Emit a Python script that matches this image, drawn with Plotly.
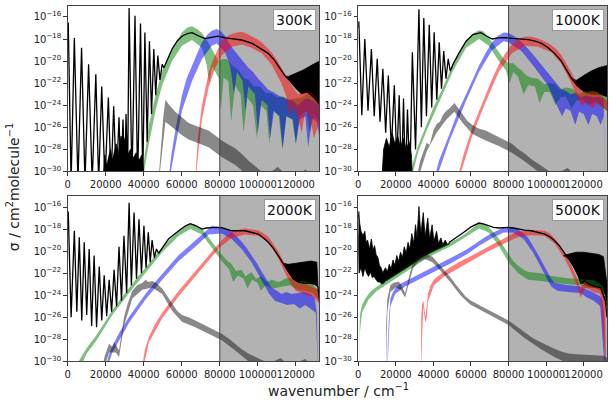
import numpy as np
import plotly.graph_objects as go

# ---------------- axes / labels ----------------
PANEL_LABELS = ["300K", "1000K", "2000K", "5000K"]
X_TICKS = [0, 20000, 40000, 60000, 80000, 100000, 120000]
Y_TICK_EXP = [-30, -28, -26, -24, -22, -20, -18, -16]
SHADE_START = 80000
X_MAX = 132400

# ---------------- data (pairs of wavenumber, log10 sigma) ----------------
# ===== 300 K =====
K300_black = [(0,-17.5),(300,-16.5),(1800,-31),(3500,-17.9),(5400,-31),(7300,-18.8),(9100,-31),(11000,-20.3),
              (12900,-31),(14800,-21.2),(16300,-31),(17900,-22.3),(19600,-31),(21400,-23.3),(22800,-31),
              (24200,-24.1),(25600,-31),(27000,-25.1),(28000,-31),(29100,-25.3),(30000,-31),(30700,-24.8),
              (31500,-31),(32300,-15.2),(33800,-31),(35400,-15.9),(36800,-31),(38300,-16.6),(39500,-31),
              (40600,-17.4),(41800,-27.3),(43000,-18.2),(44100,-24.8),(45300,-18.9),(46300,-23.1),(47400,-19.5),
              (48500,-21.7),(49700,-20.3),(50600,-20.6),(52500,-19.8),(54900,-18.9),(57500,-18.2),(60100,-17.75),
              (63000,-17.5),(65400,-17.43),(68500,-17.7),(72300,-17.96),(75500,-17.85),(79300,-17.73),
              (83000,-17.9),(86300,-18.0),(91500,-18.09),(97000,-18.4),(102000,-18.92),(105500,-19.3),
              (108900,-19.96),(111500,-20.6),(114100,-21.3),(116800,-21.75),(119500,-22.3),(122900,-22.9),
              (126200,-22.8),(129000,-23.2),(132400,-23.9)]
K300_base_hi = [(18500,-31),(19500,-28.5),(20500,-29.5),(22500,-28.0),(23500,-29.0),(25500,-27.5),(26500,-28.5),
                (28000,-26.8),(29800,-27.2),(31000,-26.5),(31600,-28.5),(33000,-28.0),(34500,-28.8),(36000,-28.3),
                (37500,-29.0),(39000,-28.5),(40000,-30.0),(40500,-31)]
K300_base_lo = [(18500,-31),(40500,-31)]
K300_dense_hi = [(114300,-21.35),(116000,-21.4),(120000,-21.1),(124000,-20.8),(128000,-20.4),(132400,-20.0)]
K300_dense_lo = [(114300,-21.4),(116800,-21.8),(119500,-22.4),(122900,-22.95),(126200,-22.8),(129000,-23.3),(132400,-23.9)]
K300_green_hi = [(39200,-30.5),(40500,-28.5),(42700,-25.8),(46200,-23.1),(49700,-20.86),(54900,-18.9),(60100,-17.4),
                 (63000,-16.95),(65400,-16.85),(68000,-17.1),(70600,-17.45),(73500,-18.2),(76500,-19.1),(79300,-20.0),
                 (81500,-19.8),(83700,-19.8),(86500,-20.4),(89800,-20.8),(92500,-21.5),(95000,-21.7),(98000,-22.3),
                 (101100,-22.3),(104000,-22.9),(107200,-22.9),(110000,-23.3),(113300,-23.2),(116500,-23.5),
                 (119400,-23.4),(123000,-23.3),(126400,-22.9),(129500,-23.3),(132400,-23.7)]
K300_green_lo = [(39200,-31),(42700,-27.5),(46200,-24.5),(49700,-22.2),(54900,-20.0),(60100,-18.6),(65400,-18.1),
                 (70600,-18.8),(73000,-20.3),(74500,-22.0),(76000,-20.5),(79300,-21.5),(80500,-24.5),(82000,-21.5),
                 (84500,-21.8),(86000,-25.5),(88000,-22.2),(91000,-23.0),(92500,-26.5),(94500,-23.3),(97500,-24.0),
                 (99500,-27.0),(101500,-24.0),(104500,-24.5),(106000,-27.5),(108000,-24.5),(111000,-25.0),
                 (113000,-28.0),(115000,-25.0),(118000,-25.3),(120000,-27.5),(122000,-25.0),(125500,-24.5),
                 (127500,-26.5),(129500,-24.8),(132400,-25.5)]
K300_blue_hi = [(53200,-30.5),(54500,-28.5),(56600,-26.3),(60100,-23.1),(62500,-21.6),(65400,-20.4),(68000,-19.2),
                (70600,-18.3),(73500,-17.6),(75800,-17.25),(78400,-17.1),(80500,-17.3),(82800,-17.7),(84500,-18.3),
                (87000,-18.9),(89800,-19.5),(92500,-20.0),(95000,-20.6),(97500,-21.0),(100200,-21.6),(103000,-22.1),
                (105500,-22.6),(108000,-22.8),(110700,-23.1),(113300,-23.3),(115900,-23.5),(118500,-23.6),
                (121200,-24.0),(124000,-23.5),(126400,-23.4),(129000,-23.6),(132400,-24.0)]
K300_blue_lo = [(53200,-31),(56600,-28.0),(60100,-24.5),(65400,-21.8),(70600,-19.8),(75800,-18.6),(78400,-18.4),
                (82800,-19.2),(85500,-20.5),(87500,-23.0),(89000,-21.0),(92000,-21.8),(93500,-24.5),(95000,-22.3),
                (98500,-23.0),(100000,-26.5),(102000,-23.5),(105000,-24.0),(106500,-27.0),(108500,-24.5),
                (111500,-25.0),(113000,-28.0),(115000,-25.0),(118500,-25.3),(120000,-27.5),(122000,-25.3),
                (125000,-25.0),(126500,-27.8),(128500,-25.2),(131000,-25.5),(132400,-27.0)]
K300_red_hi = [(67100,-30.5),(68500,-27.0),(70600,-24.0),(72500,-22.3),(74100,-21.1),(76000,-20.1),(77600,-19.4),
               (79500,-18.7),(81000,-18.2),(83500,-17.8),(86300,-17.55),(89000,-17.4),(91500,-17.35),(94000,-17.5),
               (96700,-17.75),(99500,-18.0),(102000,-18.3),(104500,-18.7),(107200,-19.2),(110000,-19.9),
               (112400,-20.6),(114200,-21.2),(115900,-21.75),(118500,-22.4),(121200,-23.0),(123500,-22.9),
               (126400,-22.7),(129000,-23.0),(132400,-23.8)]
K300_red_lo = [(67100,-31),(70600,-25.3),(74100,-22.4),(77600,-20.6),(81000,-19.5),(86300,-18.7),(91500,-18.5),
               (96700,-18.8),(102000,-19.3),(107200,-20.3),(110000,-21.2),(112400,-22.0),(115000,-23.2),
               (116500,-25.0),(118000,-24.0),(121000,-25.0),(123000,-26.5),(125000,-24.5),(127500,-25.0),
               (129500,-27.0),(132400,-25.5)]
K300_gray_hi = [(47900,-30.5),(49000,-28.0),(50300,-25.0),(51400,-23.5),(53500,-24.0),(56600,-24.6),(60000,-25.1),
                (63600,-25.6),(68000,-25.9),(74100,-26.3),(78000,-26.8),(81000,-27.2),(85000,-27.6),(88000,-27.9),
                (91500,-28.4),(95000,-29.0),(98500,-29.5),(102000,-30.0),(104000,-30.4),(108000,-29.9),
                (110500,-29.6),(113000,-30.0),(116000,-30.6),(122000,-30.4),(125000,-29.8),(127500,-30.3),
                (132400,-31)]
K300_gray_lo = [(47900,-31),(51400,-25.5),(53500,-25.8),(56600,-26.2),(60000,-26.7),(63600,-27.1),(68000,-27.4),
                (74100,-27.8),(78000,-28.3),(81000,-28.7),(85000,-29.1),(88000,-29.4),(91500,-29.9),(95000,-30.5),
                (104000,-31),(132400,-31)]

# ===== 1000 K =====
K1000_black = [(0,-17.0),(300,-16.4),(1900,-24.9),(3500,-18.0),(5200,-24.5),(7000,-18.9),(8500,-25.0),(10100,-19.8),
               (11600,-25.5),(13100,-20.7),(14600,-26.5),(16000,-21.3),(17600,-28.0),(19200,-22.2),(20500,-29.0),
               (21800,-23.1),(23000,-31),(24100,-23.4),(25100,-31),(26200,-24.4),(27500,-31),(28800,-19.2),
               (30500,-28.0),(32300,-15.3),(33600,-26.0),(34900,-16.1),(36300,-25.0),(37800,-16.7),(39100,-24.2),
               (40400,-17.4),(41800,-23.5),(43100,-18.3),(44300,-22.5),(45500,-19.1),(46700,-21.6),(47900,-19.8),
               (49000,-20.9),(50400,-20.3),(53500,-19.3),(57400,-18.2),(61000,-17.6),(64300,-17.43),(65200,-17.43),
               (68000,-17.7),(71300,-18.0),(74500,-17.9),(78400,-17.87),(82500,-17.95),(87000,-18.0),(90500,-18.05),
               (94000,-18.18),(97500,-18.4),(100900,-18.77),(104500,-19.3),(107900,-19.96),(110500,-20.7),
               (113100,-21.45),(116600,-22.2),(120100,-22.65),(123000,-22.7),(126000,-22.6),(129000,-22.8),
               (132400,-23.2)]
K1000_base_hi = [(12500,-31),(13500,-28.0),(15000,-27.0),(16500,-27.8),(18000,-26.5),(19500,-27.5),(21000,-26.8),
                 (22500,-27.8),(24000,-27.0),(25500,-28.0),(27000,-27.3),(28300,-28.5),(29000,-31)]
K1000_base_lo = [(12500,-31),(29000,-31)]
K1000_dense_hi = [(113100,-21.5),(116000,-21.75),(120000,-21.3),(124000,-20.9),(128000,-20.6),(132400,-20.4)]
K1000_dense_lo = [(113100,-21.55),(116600,-22.3),(120100,-22.8),(124000,-23.0),(128000,-23.0),(132400,-23.2)]
K1000_green_hi = [(27700,-30.5),(29500,-29.0),(32000,-27.6),(36400,-25.7),(40000,-24.2),(43400,-23.0),(47000,-21.6),
                  (50400,-20.3),(54000,-19.1),(57400,-18.2),(61000,-17.5),(64300,-17.2),(66500,-17.3),(69500,-17.85),
                  (72000,-18.5),(74800,-19.2),(77500,-19.8),(80000,-20.2),(82500,-20.2),(85000,-20.6),(87000,-20.85),
                  (89500,-21.3),(92000,-21.5),(95700,-21.6),(99000,-22.1),(101500,-22.0),(104400,-22.05),
                  (107500,-22.6),(110500,-22.4),(114000,-22.5),(117500,-23.0),(120500,-22.7),(123600,-22.65),
                  (127000,-22.8),(130600,-23.1),(132400,-23.3)]
K1000_green_lo = [(27700,-31),(32000,-28.2),(36400,-26.3),(43400,-23.6),(50400,-20.9),(57400,-18.8),(64300,-18.0),
                  (69500,-18.6),(74800,-20.0),(78500,-20.8),(80500,-22.0),(82500,-21.0),(85000,-21.4),(88000,-23.0),
                  (90500,-22.2),(94000,-22.3),(96500,-23.8),(99000,-22.8),(102000,-22.8),(105000,-24.0),
                  (107500,-23.3),(110500,-23.2),(113500,-24.3),(116000,-23.6),(119500,-23.5),(122500,-24.0),
                  (126000,-23.6),(129000,-24.0),(132400,-24.5)]
K1000_blue_hi = [(40800,-30.5),(43000,-29.0),(48600,-26.6),(53000,-24.6),(57400,-23.0),(61000,-21.6),(64300,-20.4),
                 (68000,-19.2),(71300,-18.3),(74500,-17.7),(77400,-17.4),(80000,-17.45),(83500,-17.8),(87000,-18.3),
                 (90500,-18.9),(94000,-19.6),(97500,-20.3),(100900,-21.0),(104500,-21.8),(107900,-22.5),
                 (110500,-22.7),(113100,-23.0),(115500,-22.9),(118300,-23.3),(121500,-23.1),(125300,-23.3),
                 (128000,-23.2),(130600,-23.4),(131300,-31)]
K1000_blue_lo = [(40800,-31),(48600,-27.2),(57400,-23.6),(64300,-21.0),(71300,-19.0),(77400,-18.2),(80000,-18.3),
                 (87000,-19.1),(94000,-20.6),(100900,-22.2),(104000,-23.3),(106500,-24.3),(108500,-25.0),
                 (110500,-24.3),(113000,-24.5),(115500,-25.8),(117500,-24.6),(120000,-24.8),(122500,-25.8),
                 (124500,-24.8),(127000,-25.0),(129000,-25.8),(130600,-25.0),(131300,-31)]
K1000_red_hi = [(53000,-30.5),(56000,-28.5),(60800,-26.0),(64300,-24.5),(67800,-23.0),(71300,-21.6),(74800,-20.3),
                (78300,-19.3),(81800,-18.5),(85200,-18.0),(88700,-17.8),(92200,-17.8),(95700,-17.95),(99200,-18.2),
                (102700,-18.55),(105300,-18.9),(107900,-19.4),(110500,-20.1),(113100,-20.9),(115000,-21.6),
                (116600,-22.1),(119000,-22.8),(121800,-22.9),(124500,-22.7),(127000,-22.8),(130600,-23.3),
                (132400,-23.6)]
K1000_red_lo = [(53000,-31),(60800,-26.7),(67800,-23.7),(74800,-21.0),(81800,-19.3),(88700,-18.6),(95700,-18.7),
                (102700,-19.2),(107900,-20.2),(113100,-21.9),(116600,-23.3),(119000,-24.0),(121800,-23.7),
                (124500,-24.3),(127000,-23.8),(130600,-24.3),(132400,-24.5)]
K1000_gray_hi = [(31200,-30.5),(33000,-29.0),(34500,-28.3),(36400,-27.4),(38000,-27.6),(40000,-26.3),(41700,-25.7),
                 (43500,-25.5),(45000,-24.9),(46900,-24.5),(48500,-24.3),(50000,-24.0),(51200,-23.8),(53000,-24.2),
                 (55600,-24.8),(58000,-25.4),(60800,-25.8),(64000,-26.1),(67800,-26.3),(71300,-26.6),(74800,-26.9),
                 (78300,-27.2),(81800,-27.5),(85200,-28.0),(88700,-28.4),(92200,-28.9),(95700,-29.3),(99200,-29.7),
                 (102700,-30.1),(106000,-30.3),(109000,-29.9),(111500,-29.7),(114000,-30.1),(117000,-30.6),
                 (121000,-30.3),(123600,-29.9),(126000,-30.3),(128000,-31)]
K1000_gray_lo = [(31200,-31),(36400,-28.2),(41700,-26.5),(46900,-25.3),(51200,-24.6),(55600,-25.6),(60800,-26.6),
                 (67800,-27.2),(74800,-27.7),(81800,-28.3),(88700,-29.1),(95700,-30.0),(100000,-31),(128000,-31)]

# ===== 2000 K =====
K2000_black = [(0,-17.2),(300,-16.4),(1800,-26.0),(3500,-18.15),(4800,-25.5),(6100,-18.75),(7400,-26.3),(8700,-19.2),
               (10000,-25.8),(11300,-19.8),(12600,-26.8),(13900,-20.4),(15200,-26.9),(16600,-21.4),(17900,-26.3),
               (19200,-22.2),(20500,-25.9),(21800,-22.6),(23100,-25.5),(24400,-21.7),(25700,-25.0),(27000,-19.6),
               (28300,-24.5),(29600,-18.6),(31000,-23.8),(32300,-15.6),(33500,-23.1),(34900,-16.5),(36200,-22.5),
               (37500,-17.1),(38800,-22.0),(40100,-17.7),(41200,-21.5),(42400,-18.3),(43400,-21.0),(44400,-19.0),
               (45600,-20.6),(46700,-19.8),(47800,-20.2),(49700,-19.7),(53000,-18.9),(58400,-18.15),(62000,-17.7),
               (64500,-17.5),(67500,-17.7),(70600,-18.0),(73000,-17.9),(75800,-17.86),(81000,-17.86),(86300,-18.15),
               (93200,-18.15),(100200,-18.45),(103000,-18.8),(105500,-19.2),(108000,-19.7),(110700,-20.4),
               (112500,-20.9),(114100,-21.4),(116000,-21.9),(118500,-22.5),(121000,-22.8),(124000,-22.9),
               (127000,-22.9),(130000,-23.0),(131600,-23.2),(132400,-24.5)]
K2000_dense_hi = [(113500,-21.1),(116000,-21.2),(120000,-21.1),(124000,-21.0),(128000,-20.9),(131000,-21.0),(131600,-22.5)]
K2000_dense_lo = [(113500,-21.2),(116000,-21.9),(118500,-22.5),(121000,-22.8),(124000,-22.9),(127000,-22.9),
                  (130000,-23.0),(131600,-23.1)]
K2000_green_hi = [(5500,-30.5),(6100,-29.9),(10000,-28.8),(14800,-27.7),(19000,-26.6),(23500,-25.35),(28000,-24.3),
                  (32300,-23.3),(36500,-22.4),(40900,-21.5),(45000,-20.6),(49700,-19.7),(54000,-18.9),(58400,-18.2),
                  (62000,-17.7),(64500,-17.5),(66500,-17.55),(70600,-17.95),(73500,-18.6),(75800,-19.1),(78500,-19.8),
                  (81000,-20.3),(83500,-20.8),(86300,-21.2),(88500,-21.8),(91500,-21.7),(93500,-22.3),(96700,-21.9),
                  (99000,-22.5),(102000,-22.25),(104500,-22.8),(107200,-22.6),(111000,-22.8),(115900,-22.4),
                  (120000,-22.7),(124600,-22.7),(128000,-22.9),(131600,-23.5),(132400,-24.0)]
K2000_green_lo = [(5500,-31),(10000,-29.3),(14800,-28.2),(23500,-25.8),(32300,-23.8),(40900,-21.95),(49700,-20.1),
                  (58400,-18.6),(64500,-18.0),(70600,-18.5),(75800,-19.7),(81000,-20.9),(85000,-21.7),(87000,-22.8),
                  (89500,-22.2),(92500,-22.5),(94500,-23.4),(97000,-22.6),(100000,-22.9),(101500,-23.6),
                  (104000,-23.1),(108000,-23.4),(113000,-23.2),(117000,-23.1),(121000,-23.5),(125000,-23.6),
                  (129000,-23.8),(132400,-24.5)]
K2000_blue_hi = [(20000,-30.5),(21500,-29.5),(23500,-28.6),(27500,-27.3),(32300,-25.95),(36500,-24.9),(40900,-23.9),
                 (45000,-23.0),(49700,-22.1),(54000,-21.2),(58400,-20.35),(62800,-19.7),(67100,-19.05),(70600,-18.5),
                 (74100,-17.95),(75800,-17.7),(78500,-17.75),(81000,-17.8),(83500,-18.0),(86300,-18.25),
                 (89000,-18.7),(91500,-19.15),(94000,-19.7),(96700,-20.35),(99500,-21.1),(102000,-21.85),
                 (104500,-22.6),(107200,-23.3),(110000,-23.6),(112400,-23.9),(115000,-23.7),(117700,-23.9),
                 (121000,-23.8),(124600,-23.7),(127500,-23.9),(129800,-24.2),(131000,-25.5),(131600,-31)]
K2000_blue_lo = [(20000,-31),(23500,-29.2),(32300,-26.5),(40900,-24.4),(49700,-22.6),(58400,-20.9),(67100,-19.6),
                 (74100,-18.5),(81000,-18.4),(86300,-18.9),(91500,-19.8),(96700,-21.0),(102000,-22.6),(106000,-23.9),
                 (109000,-24.5),(112000,-24.7),(115500,-24.9),(119000,-24.8),(122000,-25.2),(125000,-24.9),
                 (128000,-25.3),(130500,-25.6),(131600,-31)]
K2000_red_hi = [(39200,-30.5),(40500,-29.0),(42700,-27.8),(46000,-26.6),(49700,-25.6),(54000,-24.6),(58400,-23.6),
                (62800,-22.7),(67100,-21.8),(71500,-20.9),(75800,-20.0),(78500,-19.5),(81000,-19.0),(83500,-18.6),
                (86300,-18.25),(89500,-18.05),(93200,-17.95),(96700,-18.0),(100200,-18.1),(103000,-18.4),
                (105500,-18.7),(108000,-19.3),(110700,-20.0),(112500,-20.6),(114100,-21.2),(116000,-21.8),
                (117700,-22.4),(120000,-22.8),(122900,-22.9),(125500,-23.0),(128100,-23.2),(131600,-23.5),
                (132400,-24.5)]
K2000_red_lo = [(39200,-31),(42700,-28.3),(49700,-26.1),(58400,-24.1),(67100,-22.3),(75800,-20.5),(81000,-19.5),
                (86300,-18.8),(93200,-18.5),(100200,-18.6),(105500,-19.2),(110700,-20.6),(114100,-21.9),
                (117700,-23.1),(120000,-23.6),(123000,-23.8),(126000,-24.0),(129000,-24.1),(132400,-24.8)]
K2000_gray_hi = [(18300,-30.5),(19500,-29.5),(21000,-28.8),(21800,-28.4),(23500,-28.7),(24500,-28.3),(25300,-28.5),
                 (27000,-29.0),(28300,-27.5),(29600,-26.0),(31500,-24.8),(34000,-23.6),(36500,-23.1),(39200,-22.9),
                 (41000,-22.6),(42500,-22.8),(44400,-22.7),(46500,-22.9),(49700,-23.4),(52500,-24.1),(54900,-24.8),
                 (57500,-25.4),(60100,-25.8),(63500,-26.0),(67100,-26.3),(70600,-26.6),(74100,-26.9),(77500,-27.2),
                 (81000,-27.5),(84500,-27.9),(88000,-28.4),(91500,-28.9),(95000,-29.3),(98500,-29.6),(102000,-29.9),
                 (106000,-30.2),(109500,-29.9),(112000,-29.7),(114500,-30.1),(118000,-30.4),(122000,-30.0),
                 (125000,-29.8),(128000,-30.3),(132400,-31)]
K2000_gray_lo = [(18300,-31),(21800,-29.2),(25300,-29.2),(27000,-29.6),(29600,-26.8),(34000,-24.3),(39200,-23.5),
                 (44400,-23.3),(49700,-23.9),(54900,-25.4),(60100,-26.4),(67100,-26.9),(74100,-27.5),(81000,-28.1),
                 (88000,-29.0),(95000,-30.0),(100000,-31),(132400,-31)]

# ===== 5000 K =====
K5000_black = [(48500,-19.2),(52000,-18.8),(56000,-18.3),(60000,-17.8),(64300,-17.45),(67000,-17.55),(69500,-17.7),
               (72000,-17.85),(74800,-17.9),(77500,-17.85),(80000,-17.85),(82500,-17.9),(85200,-18.0),(88500,-18.1),
               (92200,-18.15),(95500,-18.3),(99200,-18.45),(102000,-18.7),(104400,-19.04),(107000,-19.5),
               (109600,-20.1),(111500,-20.5),(113100,-20.97),(115000,-21.5),(117000,-22.2),(118500,-22.9),
               (120500,-22.7),(123000,-23.0),(126000,-23.2),(129000,-23.3),(131500,-24.5),(132400,-26)]
K5000_low_hi = [(0,-17.0),(300,-16.4),(800,-17.5),(1500,-18.2),(2500,-18.6),(3500,-18.2),(4200,-19.2),(5000,-19.0),
                (6000,-19.8),(7000,-18.9),(7800,-19.9),(8700,-19.5),(9500,-20.3),(10500,-20.6),(11300,-21.3),
                (12200,-21.5),(13100,-22.0),(13800,-22.5)]
K5000_low_lo = [(0,-18.5),(400,-22.0),(1500,-21.5),(2500,-22.3),(3500,-21.5),(4500,-22.0),(5500,-22.3),(6500,-21.9),
                (7500,-22.4),(8500,-22.3),(9500,-22.6),(10500,-22.8),(11500,-22.8),(12500,-23.0),(13800,-22.9)]
K5000_mid_hi = [(13000,-22.0),(14500,-21.5),(15500,-21.9),(16500,-21.2),(17500,-21.6),(18500,-20.8),(19500,-21.3),
                (20500,-20.4),(21500,-20.9),(22500,-20.1),(23500,-20.6),(24500,-19.6),(25500,-20.2),(26500,-19.2),
                (27500,-19.8),(28500,-18.4),(29500,-19.3),(30500,-17.6),(31300,-18.8),(32300,-15.95),(33300,-18.5),
                (34600,-16.5),(35600,-18.7),(37000,-17.0),(38000,-18.9),(39300,-17.6),(40300,-19.1),(41700,-18.2),
                (42700,-19.3),(44000,-18.8),(45000,-19.4),(46300,-19.0),(47500,-19.4),(48500,-19.2)]
K5000_mid_lo = [(13000,-22.9),(20000,-22.15),(27000,-21.4),(34000,-20.55),(41000,-19.95),(45000,-19.6),(48500,-19.35)]
K5000_dense_hi = [(109000,-20.4),(111000,-20.3),(113000,-20.2),(116000,-20.1),(120000,-20.1),(124000,-20.2),
                  (128000,-20.3),(130500,-20.5),(131500,-22.0),(132400,-23.0)]
K5000_dense_lo = [(109000,-20.4),(111500,-20.6),(113100,-21.0),(115000,-21.5),(117000,-22.2),(118500,-22.9),
                  (120500,-23.0),(123000,-23.2),(126000,-23.3),(129000,-23.4),(131500,-24.0),(132400,-25.0)]
K5000_green_hi = [(350,-30.5),(500,-27.0),(900,-25.8),(2000,-24.9),(3500,-24.4),(5500,-23.9),(7000,-23.6),
                  (10000,-23.2),(13100,-22.85),(16500,-22.5),(20000,-22.1),(23500,-21.75),(27000,-21.35),
                  (30500,-20.95),(34000,-20.5),(37500,-20.2),(41000,-19.9),(45000,-19.55),(49700,-19.15),
                  (54000,-18.75),(58400,-18.25),(61500,-17.8),(64300,-17.5),(66500,-17.5),(69500,-17.8),(72000,-18.3),
                  (74800,-18.85),(77500,-19.6),(80000,-20.3),(82500,-20.9),(85200,-21.35),(88000,-21.7),(90500,-21.9),
                  (94000,-21.95),(97400,-22.0),(101000,-22.2),(104400,-22.3),(108000,-22.4),(111400,-22.45),
                  (115000,-22.5),(118300,-22.55),(121500,-22.6),(125300,-22.65),(128800,-23.0),(130500,-23.3),
                  (131500,-24.3),(132400,-24.5)]
K5000_green_lo = [(350,-31),(800,-27.5),(2000,-25.6),(5500,-24.4),(10000,-23.6),(16500,-22.9),(23500,-22.1),
                  (30500,-21.3),(37500,-20.55),(45000,-19.9),(49700,-19.5),(58400,-18.6),(64300,-17.95),(69500,-18.3),
                  (74800,-19.5),(80000,-21.0),(85200,-22.0),(90500,-22.6),(97400,-22.7),(104400,-22.9),(111400,-23.0),
                  (118300,-23.1),(121000,-23.4),(125300,-23.3),(128800,-23.6),(131500,-24.8),(132400,-25.0)]
K5000_blue_hi = [(15600,-31),(15700,-28.5),(16200,-26.5),(17100,-24.3),(18500,-23.7),(19700,-23.4),(22000,-23.0),
                 (24900,-22.75),(28000,-22.45),(31900,-22.15),(36000,-21.8),(40600,-21.4),(45000,-21.05),
                 (49300,-20.65),(54000,-20.2),(58100,-19.8),(61000,-19.45),(64300,-19.05),(67800,-18.7),(71300,-18.35),
                 (74800,-18.05),(77500,-17.85),(80000,-17.8),(82500,-17.85),(85200,-18.05),(88000,-18.4),
                 (90500,-18.8),(93000,-19.5),(95700,-20.3),(98500,-21.2),(100900,-21.95),(102700,-22.5),
                 (104400,-22.9),(107500,-23.0),(111400,-23.1),(115000,-23.15),(118300,-23.2),(121800,-23.5),
                 (125300,-23.75),(128800,-24.1),(130000,-24.5),(131000,-26.0),(131300,-31)]
K5000_blue_lo = [(15600,-31),(16200,-28.0),(17100,-25.0),(19700,-23.9),(24900,-23.2),(31900,-22.6),(40600,-21.85),
                 (49300,-21.1),(58100,-20.25),(64300,-19.5),(71300,-18.8),(77500,-18.3),(82500,-18.3),(88000,-18.9),
                 (93000,-20.1),(98500,-21.8),(102700,-23.2),(106000,-23.6),(111400,-23.7),(118300,-23.8),
                 (121800,-24.2),(125300,-24.5),(128800,-25.0),(131300,-31)]
K5000_red_hi = [(33400,-31),(33500,-26.0),(34000,-24.7),(34600,-24.5),(35200,-25.2),(35700,-25.9),(36300,-25.2),
                (37100,-23.9),(38500,-23.1),(40300,-22.6),(42200,-22.3),(45700,-21.85),(49200,-21.45),(53500,-21.0),
                (57900,-20.65),(61000,-20.35),(64300,-20.05),(67800,-19.7),(71300,-19.4),(74800,-19.1),(77500,-18.85),
                (80000,-18.6),(82500,-18.4),(85200,-18.25),(88700,-18.15),(92200,-18.1),(95700,-18.1),(99200,-18.15),
                (102000,-18.4),(104400,-18.8),(107000,-19.4),(109600,-20.1),(111500,-20.7),(113100,-21.2),
                (115000,-21.9),(116600,-22.5),(117600,-23.1),(118300,-23.5),(119300,-23.0),(120900,-22.6),
                (123000,-22.9),(125300,-23.1),(128800,-23.3),(130500,-23.6),(131500,-25.0),(132000,-31)]
K5000_red_lo = [(33400,-31),(34600,-25.0),(35700,-26.5),(36500,-26.0),(37100,-24.6),(40300,-23.1),(45700,-22.3),
                (53500,-21.5),(61000,-20.8),(67800,-20.15),(74800,-19.55),(80000,-19.1),(85200,-18.7),(92200,-18.55),
                (99200,-18.6),(104400,-19.3),(109600,-20.6),(113100,-21.8),(116600,-23.2),(118300,-24.2),
                (120900,-23.3),(125300,-23.7),(128800,-23.9),(132000,-31)]
K5000_gray_hi = [(14800,-31),(14900,-26.5),(15500,-24.3),(16300,-23.6),(17100,-23.1),(18700,-22.9),(20000,-22.8),
                 (21400,-22.75),(22500,-22.95),(23500,-23.3),(24900,-23.8),(25700,-23.3),(26500,-22.6),(27800,-21.8),
                 (29100,-21.1),(30500,-20.75),(31700,-20.5),(33500,-20.3),(35200,-20.2),(37300,-20.35),(39500,-20.5),
                 (41500,-20.9),(43900,-21.35),(46500,-21.9),(49200,-22.4),(51800,-23.0),(54400,-23.6),(57000,-24.1),
                 (59600,-24.45),(62000,-24.7),(64300,-24.9),(67800,-25.2),(71300,-25.5),(75000,-25.8),(80000,-26.3),
                 (84000,-26.8),(88700,-27.4),(93000,-27.9),(97400,-28.3),(101000,-28.6),(104400,-28.85),
                 (108000,-29.1),(111800,-29.3),(116000,-29.35),(120000,-29.4),(123600,-29.4),(127000,-29.5),
                 (130600,-29.5),(132400,-29.7)]
K5000_gray_lo = [(14800,-31),(15500,-25.5),(17100,-23.7),(20000,-23.3),(22500,-23.5),(24900,-24.2),(26500,-23.2),
                 (29100,-21.6),(31700,-21.0),(35200,-20.7),(39500,-21.0),(43900,-21.8),(49200,-22.85),(54400,-24.0),
                 (59600,-24.85),(64300,-25.3),(71300,-25.9),(80000,-26.7),(88700,-27.9),(97400,-28.9),(104400,-29.6),
                 (111800,-30.2),(120000,-30.5),(132400,-30.6)]

# ---------------- styling ----------------
FONT = "DejaVu Sans"
C_GREEN = "rgba(0,128,0,0.5)"
C_BLUE = "rgba(0,0,255,0.5)"
C_RED = "rgba(255,0,0,0.5)"
C_GRAY = "rgba(20,20,20,0.5)"
W, H = 609, 407
# plot-area pixel boxes (left, right, top, bottom)
BOXES = [(65, 318, 6, 174), (357, 607, 6, 174), (65, 318, 199, 366.7), (357, 607, 199, 366.7)]


def xy(pairs):
    return [p[0] for p in pairs], [10.0 ** p[1] for p in pairs]


def polygon(hi, lo):
    xh, yh = xy(hi)
    xl, yl = xy(lo)
    return xh + xl[::-1], yh + yl[::-1]


panels = [
    dict(black=K300_black, fills=[(K300_base_hi, K300_base_lo)], dense=(K300_dense_hi, K300_dense_lo),
         bands=[(K300_green_hi, K300_green_lo, C_GREEN), (K300_blue_hi, K300_blue_lo, C_BLUE),
                (K300_red_hi, K300_red_lo, C_RED), (K300_gray_hi, K300_gray_lo, C_GRAY)]),
    dict(black=K1000_black, fills=[(K1000_base_hi, K1000_base_lo)], dense=(K1000_dense_hi, K1000_dense_lo),
         bands=[(K1000_green_hi, K1000_green_lo, C_GREEN), (K1000_blue_hi, K1000_blue_lo, C_BLUE),
                (K1000_red_hi, K1000_red_lo, C_RED), (K1000_gray_hi, K1000_gray_lo, C_GRAY)]),
    dict(black=K2000_black, fills=[], dense=(K2000_dense_hi, K2000_dense_lo),
         bands=[(K2000_green_hi, K2000_green_lo, C_GREEN), (K2000_blue_hi, K2000_blue_lo, C_BLUE),
                (K2000_red_hi, K2000_red_lo, C_RED), (K2000_gray_hi, K2000_gray_lo, C_GRAY)]),
    dict(black=K5000_black, fills=[(K5000_low_hi, K5000_low_lo), (K5000_mid_hi, K5000_mid_lo)],
         dense=(K5000_dense_hi, K5000_dense_lo),
         bands=[(K5000_green_hi, K5000_green_lo, C_GREEN), (K5000_blue_hi, K5000_blue_lo, C_BLUE),
                (K5000_red_hi, K5000_red_lo, C_RED), (K5000_gray_hi, K5000_gray_lo, C_GRAY)]),
]

fig = go.Figure()
layout = dict(width=W, height=H, margin=dict(l=0, r=0, t=0, b=0), paper_bgcolor="white",
              plot_bgcolor="white", showlegend=False, font=dict(family=FONT, color="#222"))
shapes, annotations = [], []

ytext = ["10<sup>\u2212%d</sup>" % (-e) for e in Y_TICK_EXP]

for i, (p, box) in enumerate(zip(panels, BOXES)):
    n = "" if i == 0 else str(i + 1)
    xa, ya = "x" + n, "y" + n
    l, r, t, b = box
    layout["xaxis" + n] = dict(domain=[l / W, r / W], range=[0, X_MAX], anchor=ya,
                               tickvals=X_TICKS, ticktext=[str(v) for v in X_TICKS], tickangle=0,
                               ticks="outside", ticklen=3.5, tickcolor="#333", tickfont=dict(size=10, color="#222"),
                               showline=True, linecolor="#444", linewidth=1, mirror=True, showgrid=False,
                               zeroline=False)
    layout["yaxis" + n] = dict(domain=[1 - b / H, 1 - t / H], type="log", range=[-30, -15], anchor=xa,
                               tickvals=[10.0 ** e for e in Y_TICK_EXP], ticktext=ytext,
                               ticks="outside", ticklen=3.5, tickcolor="#333", tickfont=dict(size=10, color="#222"),
                               showline=True, linecolor="#444", linewidth=1, mirror=True, showgrid=False,
                               zeroline=False)
    shapes.append(dict(type="rect", xref=xa, yref=ya + " domain", x0=SHADE_START, x1=X_MAX, y0=0, y1=1,
                       fillcolor="rgb(178,178,178)", line=dict(width=0), layer="below"))
    shapes.append(dict(type="line", xref=xa, yref=ya + " domain", x0=SHADE_START, x1=SHADE_START, y0=0, y1=1,
                       line=dict(color="#444", width=1), layer="above"))
    annotations.append(dict(text=PANEL_LABELS[i], xref=xa + " domain", yref=ya + " domain", x=1, y=1,
                            xanchor="right", yanchor="top", xshift=-3, yshift=-3, showarrow=False,
                            font=dict(size=14, color="#111", family=FONT), bgcolor="white",
                            bordercolor="#999", borderwidth=1, borderpad=2))

    # dense black region (beneath coloured bands)
    dx, dy = polygon(*p["dense"])
    fig.add_trace(go.Scatter(x=dx, y=dy, fill="toself", fillcolor="black", mode="lines",
                             line=dict(width=0.8, color="black"), xaxis=xa, yaxis=ya, hoverinfo="skip"))
    for hi, lo in p["fills"]:
        fx, fy = polygon(hi, lo)
        fig.add_trace(go.Scatter(x=fx, y=fy, fill="toself", fillcolor="black", mode="lines",
                                 line=dict(width=0.8, color="black"), xaxis=xa, yaxis=ya, hoverinfo="skip"))
    for hi, lo, col in p["bands"]:
        bx, by = polygon(hi, lo)
        fig.add_trace(go.Scatter(x=bx, y=by, fill="toself", fillcolor=col, mode="lines",
                                 line=dict(width=0), xaxis=xa, yaxis=ya, hoverinfo="skip"))
    kx, ky = xy(p["black"])
    fig.add_trace(go.Scatter(x=kx, y=ky, mode="lines", line=dict(color="black", width=1.3),
                             xaxis=xa, yaxis=ya, hoverinfo="skip"))

annotations.append(dict(text="\u03c3 / cm<sup>2</sup>molecule<sup>\u22121</sup>", xref="paper", yref="paper",
                        x=10 / W, y=1 - 190 / H, textangle=-90, showarrow=False, xanchor="center", yanchor="middle",
                        font=dict(size=14, color="#222", family=FONT)))
annotations.append(dict(text="wavenumber / cm<sup>\u22121</sup>", xref="paper", yref="paper",
                        x=337 / W, y=1 - 396 / H, showarrow=False, xanchor="center", yanchor="middle",
                        font=dict(size=14, color="#222", family=FONT)))

layout["shapes"] = shapes
layout["annotations"] = annotations
fig.update_layout(**layout)
fig.write_html("out.html", config={"displayModeBar": False},
               post_script="document.body.style.margin='0px';document.body.style.overflow='hidden';")
